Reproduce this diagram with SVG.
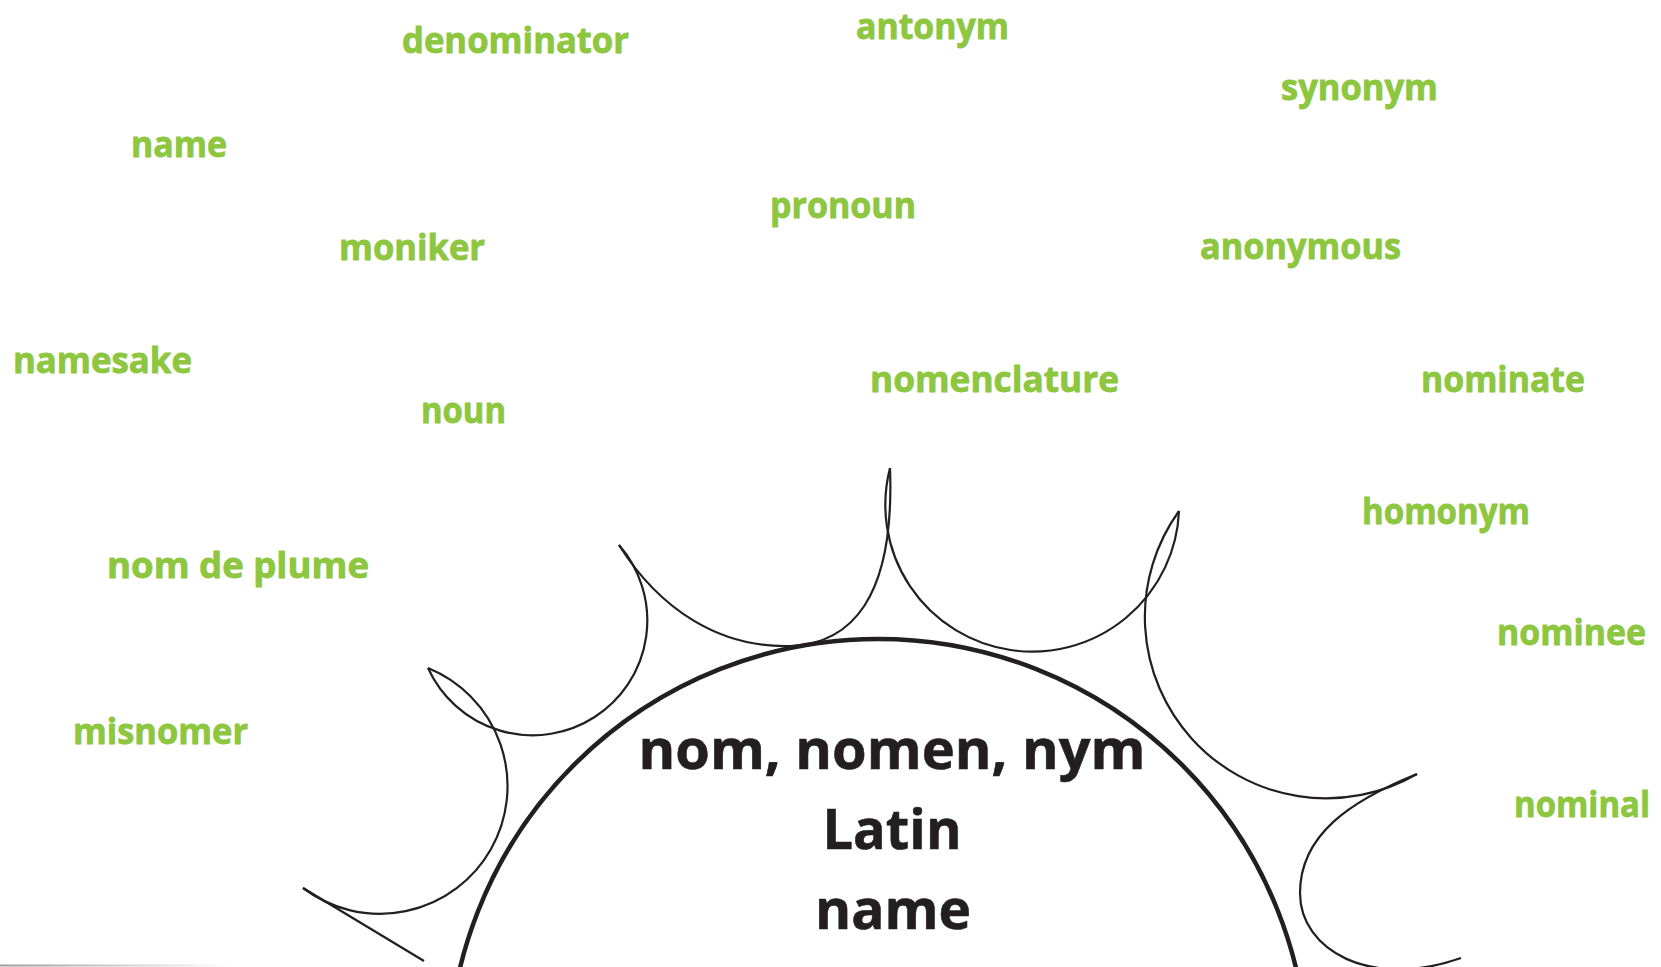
<svg xmlns="http://www.w3.org/2000/svg" width="1661" height="967" viewBox="0 0 1661 967">
<defs>
<style>
.w{font-family:"Open Sans","Noto Sans","DejaVu Sans",sans-serif;font-weight:700;font-size:35px;fill:#8dc63f;stroke:#8dc63f;stroke-width:0.8;stroke-linejoin:round}
.c{font-family:"Open Sans","Noto Sans","DejaVu Sans",sans-serif;font-weight:700;font-size:56px;fill:#231f20;stroke:#231f20;stroke-width:0.6;text-anchor:middle}
.s{fill:none;stroke:#231f20;stroke-width:2.2}
.big{fill:none;stroke:#231f20;stroke-width:4.5}
</style>
<linearGradient id="fade" x1="0" y1="0" x2="1" y2="0">
<stop offset="0" stop-color="#9a9a9a"/>
<stop offset="1" stop-color="#ffffff"/>
</linearGradient>
</defs>
<rect width="1661" height="967" fill="#ffffff"/>
<rect x="0" y="964.5" width="232" height="2" fill="url(#fade)"/>
<g id="connectors">
<path class="s" d="M303,888 L424,961"/>
<path class="s" d="M303,888 A127.6,127.6 0 1 0 428,668"/>
<path class="s" d="M428,668 A114.8,114.8 0 1 0 619,545"/>
<path class="s" d="M619,545 C660,610 720,648 790,646 C850,644 895,600 890,468"/>
<path class="s" d="M890,468 A146.9,146.9 0 1 0 1179,511"/>
<path class="s" d="M1179,511 A181.4,181.4 0 0 0 1417,774"/>
<path class="s" d="M1417,774 C1350,801 1300,835 1300,893 C1300,950 1370,990 1461,958"/>
</g>
<g id="center">
<circle class="big" cx="878" cy="1069" r="430"/>
<text class="c" x="892" y="769" textLength="507" lengthAdjust="spacingAndGlyphs">nom, nomen, nym</text>
<text class="c" x="892" y="849" textLength="139" lengthAdjust="spacingAndGlyphs">Latin</text>
<text class="c" x="893" y="929" textLength="156" lengthAdjust="spacingAndGlyphs">name</text>
</g>
<g id="w-denominator"><text class="w" x="402" y="53" textLength="227" lengthAdjust="spacingAndGlyphs">denominator</text></g>
<g id="w-antonym"><text class="w" x="856" y="39" textLength="153" lengthAdjust="spacingAndGlyphs">antonym</text></g>
<g id="w-synonym"><text class="w" x="1281" y="100" textLength="157" lengthAdjust="spacingAndGlyphs">synonym</text></g>
<g id="w-name"><text class="w" x="131" y="157" textLength="96" lengthAdjust="spacingAndGlyphs">name</text></g>
<g id="w-pronoun"><text class="w" x="770" y="218" textLength="146" lengthAdjust="spacingAndGlyphs">pronoun</text></g>
<g id="w-moniker"><text class="w" x="339" y="260" textLength="146" lengthAdjust="spacingAndGlyphs">moniker</text></g>
<g id="w-anonymous"><text class="w" x="1200" y="259" textLength="201" lengthAdjust="spacingAndGlyphs">anonymous</text></g>
<g id="w-namesake"><text class="w" x="13" y="373" textLength="179" lengthAdjust="spacingAndGlyphs">namesake</text></g>
<g id="w-nomenclature"><text class="w" x="870" y="392" textLength="249" lengthAdjust="spacingAndGlyphs">nomenclature</text></g>
<g id="w-nominate"><text class="w" x="1421" y="392" textLength="164" lengthAdjust="spacingAndGlyphs">nominate</text></g>
<g id="w-noun"><text class="w" x="421" y="423" textLength="85" lengthAdjust="spacingAndGlyphs">noun</text></g>
<g id="w-homonym"><text class="w" x="1362" y="524" textLength="168" lengthAdjust="spacingAndGlyphs">homonym</text></g>
<g id="w-nom-de-plume"><text class="w" x="107" y="578" textLength="262" lengthAdjust="spacingAndGlyphs">nom de plume</text></g>
<g id="w-nominee"><text class="w" x="1497" y="645" textLength="149" lengthAdjust="spacingAndGlyphs">nominee</text></g>
<g id="w-misnomer"><text class="w" x="73" y="744" textLength="175" lengthAdjust="spacingAndGlyphs">misnomer</text></g>
<g id="w-nominal"><text class="w" x="1514" y="817" textLength="136" lengthAdjust="spacingAndGlyphs">nominal</text></g>
</svg>
